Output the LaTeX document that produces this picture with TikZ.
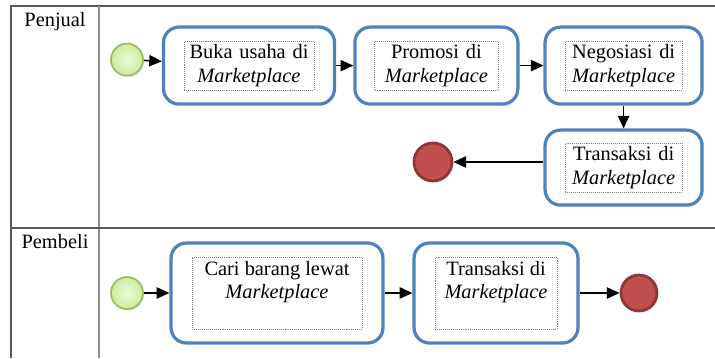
\documentclass[tikz,border=0pt]{standalone}
\usepackage{fontspec}
\setmainfont{Liberation Serif}
\usetikzlibrary{arrows.meta,shadows}
\definecolor{taskblue}{RGB}{79,129,189}
\definecolor{startfill}{RGB}{205,236,160}
\definecolor{startline}{RGB}{155,187,89}
\definecolor{endfill}{RGB}{192,80,77}
\definecolor{endline}{RGB}{140,56,54}
\tikzset{
    task/.style={draw=taskblue, line width=2.3pt, rounded corners=11pt, fill=white},
    labelbox/.style={draw=gray, densely dotted, line width=0.4pt, inner sep=2pt, align=center},
    startev/.style={circle, draw=startline, line width=1.2pt, inner color=startfill!40!white,
        outer color=startfill, minimum size=0.8cm,
        drop shadow={opacity=0.2, shadow xshift=0.03cm, shadow yshift=-0.04cm}},
    endev/.style={circle, draw=endline, line width=2pt, fill=endfill, minimum size=0.95cm},
    flow/.style={-{Triangle[length=9pt,width=8pt]}, line width=1.1pt},
    lane/.style={draw=black!65, line width=0.9pt}
}
\begin{document}
\begin{tikzpicture}[font=\fontsize{14.5}{16.5}\selectfont]
    \useasboundingbox (0,0) rectangle (17.875,-8.95);
    % Table
    \draw[lane] (0.275,-8.95) -- (0.275,-0.15) -- (17.875,-0.15);
    \draw[lane, draw=black!45] (2.475,-0.15) -- (2.475,-8.95);
    \draw[lane] (0.275,-5.7) -- (17.875,-5.7);
    \node[anchor=base] (penjual) at (1.375,-0.675) {Penjual};
    \node[anchor=base] (pembeli) at (1.375,-6.2) {Pembeli};
    % Penjual lane
    \node[startev] (start1) at (3.175,-1.49) {};
    \node[task, minimum width=4.275cm, minimum height=1.925cm] (buka) at (6.225,-1.64) {};
    \node[labelbox, text width=3.1cm, minimum height=1.225cm] (buka-txt) at (buka) {Buka usaha di\\\textit{Marketplace}};
    \node[task, minimum width=4.075cm, minimum height=1.925cm] (promosi) at (10.91,-1.64) {};
    \node[labelbox, text width=2.95cm, minimum height=1.225cm] (promosi-txt) at (promosi) {Promosi di\\\textit{Marketplace}};
    \node[task, minimum width=3.925cm, minimum height=1.925cm] (nego) at (15.59,-1.64) {};
    \node[labelbox, text width=2.78cm, minimum height=1.225cm] (nego-txt) at (nego) {Negosiasi di\\\textit{Marketplace}};
    \node[task, minimum width=3.925cm, minimum height=1.875cm] (trans1) at (15.59,-4.19) {};
    \node[labelbox, text width=2.78cm, minimum height=1.225cm] (trans1-txt) at (trans1) {Transaksi di\\\textit{Marketplace}};
    \node[endev] (end1) at (10.825,-4.05) {};
    \draw[flow] (start1) -- (buka);
    \draw[flow] (buka) -- (promosi);
    \draw[flow] (promosi) -- (nego);
    \draw[flow] (nego) -- (trans1);
    \draw[flow] (trans1.west |- end1) -- (end1);
    % Pembeli lane
    \node[startev] (start2) at (3.175,-7.325) {};
    \node[task, minimum width=5.3cm, minimum height=2.5cm] (cari) at (6.925,-7.325) {};
    \node[labelbox, minimum width=4.25cm, minimum height=1.8cm] (cari-in) at (cari) {};
    \node[anchor=north, align=center, inner sep=3pt] (cari-txt) at (cari-in.north) {Cari barang lewat\\\textit{Marketplace}};
    \node[task, minimum width=4.1cm, minimum height=2.5cm] (trans2) at (12.4,-7.325) {};
    \node[labelbox, minimum width=3.05cm, minimum height=1.8cm] (trans2-in) at (trans2) {};
    \node[anchor=north, align=center, inner sep=3pt] (trans2-txt) at (trans2-in.north) {Transaksi di\\\textit{Marketplace}};
    \node[endev, minimum size=0.9cm] (end2) at (15.975,-7.325) {};
    \draw[flow] (start2) -- (cari);
    \draw[flow] (cari) -- (trans2);
    \draw[flow] (trans2) -- (end2);
\end{tikzpicture}
\end{document}
